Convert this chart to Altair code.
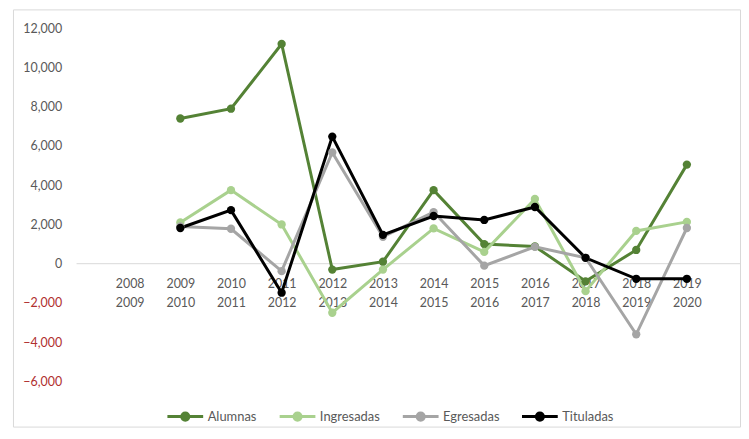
import altair as alt
import pandas as pd

periods = ["2008-2009", "2009-2010", "2010-2011", "2011-2012", "2012-2013", "2013-2014",
           "2014-2015", "2015-2016", "2016-2017", "2017-2018", "2018-2019", "2019-2020"]
series_names = ["Alumnas", "Ingresadas", "Egresadas", "Tituladas"]
alumnas = [None, 7400, 7900, 11200, -300, 100, 3750, 1000, 880, -900, 700, 5050]
ingresadas = [None, 2100, 3750, 2000, -2500, -300, 1800, 600, 3300, -1400, 1670, 2130]
egresadas = [None, 1900, 1780, -380, 5670, 1370, 2630, -100, 860, 300, -3600, 1820]
tituladas = [None, 1820, 2730, -1480, 6480, 1470, 2430, 2230, 2890, 300, -770, -770]
colors = ["#548235", "#a9d18e", "#a5a5a5", "#000000"]
y_ticks = [-6000, -4000, -2000, 0, 2000, 4000, 6000, 8000, 10000, 12000]

rows = []
for name, vals in zip(series_names, [alumnas, ingresadas, egresadas, tituladas]):
    for p, v in zip(periods, vals):
        if v is not None:
            rows.append({"periodo": p, "serie": name, "valor": v})
df = pd.DataFrame(rows)

FONT = "Lato"
TXT = "#595959"
Y_DOMAIN = [-8304, 12962]

x_enc = alt.X("periodo:N", sort=periods,
              scale=alt.Scale(type="point", domain=periods, range=[92, 704]),
              axis=alt.Axis(title=None, orient="bottom", offset=-150, ticks=False, tickSize=0,
                            domain=False, grid=False, labelPadding=0, labelAngle=0,
                            labelExpr="split(datum.label, '-')", labelLineHeight=19,
                            labelFont=FONT, labelFontSize=12.5, labelColor=TXT))
y_enc = alt.Y("valor:Q",
              scale=alt.Scale(domain=Y_DOMAIN, nice=False, zero=False),
              axis=alt.Axis(title=None, values=y_ticks, format=",.0f", ticks=False, tickSize=0,
                            domain=False, grid=False, offset=-49, labelPadding=0,
                            labelFont=FONT, labelFontSize=12.5,
                            labelColor=alt.condition("datum.value < 0", alt.value("#b0302f"), alt.value(TXT))))

legend = alt.Legend(title=None, orient="none", legendX=154, legendY=390, direction="horizontal",
                    symbolType="M-1,0L1,0M-0.2,0A0.2,0.2,0,1,1,0.2,0A0.2,0.2,0,1,1,-0.2,0",
                    symbolSize=1296, symbolStrokeWidth=3, labelOffset=3, columnPadding=16,
                    labelFont=FONT, labelFontSize=13, labelColor=TXT)
color_enc = alt.Color("serie:N", sort=series_names,
                      scale=alt.Scale(domain=series_names, range=colors), legend=legend)

base = alt.Chart(df)

zero_rule = alt.Chart(pd.DataFrame({"z": [0]})).mark_rule(color="#d9d9d9", strokeWidth=1).encode(
    y=alt.Y("z:Q", scale=alt.Scale(domain=Y_DOMAIN, nice=False, zero=False)),
    x=alt.value(64), x2=alt.value(732))

lines = base.mark_line(strokeWidth=3).encode(
    x=x_enc, y=y_enc, color=color_enc, detail="serie:N")
points = base.mark_point(filled=True, size=70, opacity=1).encode(x=x_enc, y=y_enc, color=color_enc)

chart = alt.layer(zero_rule, lines, points).properties(
    width=732, height=420,
    padding={"left": 5, "top": 0, "right": 0, "bottom": 0},
    background="white",
).configure_view(stroke="#d9d9d9", strokeWidth=1)

chart.save("out.html", embed_options={"renderer": "svg", "actions": False})
